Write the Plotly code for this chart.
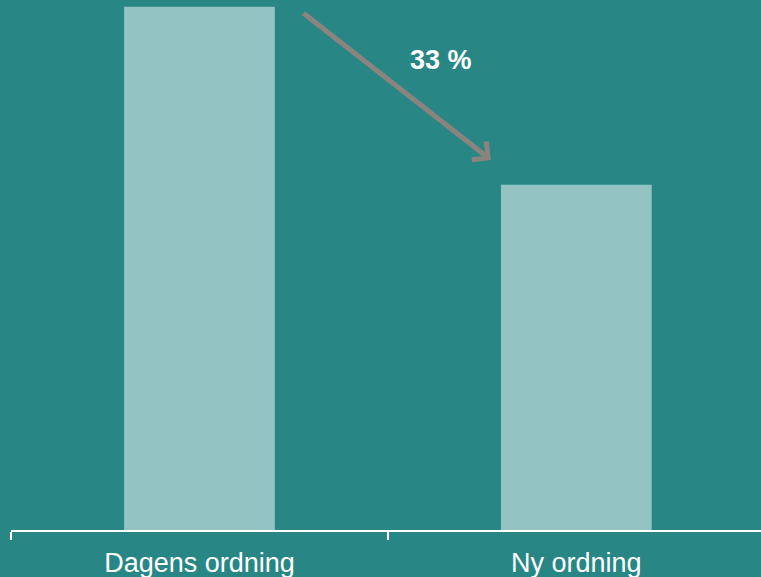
import plotly.graph_objects as go

categories = ["Dagens ordning", "Ny ordning"]
values = [100, 66]
change_label = "33 %"

BG = "#288784"
BAR = "#93c3c2"
ARROW = "#8b847e"

fig = go.Figure(go.Bar(x=categories, y=values, marker=dict(color=BAR, line=dict(width=0)), width=0.4))

fig.update_layout(
    width=761, height=577,
    paper_bgcolor=BG, plot_bgcolor=BG,
    margin=dict(l=11, r=0, t=0, b=47),
    showlegend=False,
    font=dict(family="Liberation Sans, Arial, sans-serif", color="white"),
)
fig.update_xaxes(
    range=[-0.5, 1.49], showline=True, linecolor="white", linewidth=2,
    ticks="outside", tickson="boundaries", tickcolor="white", ticklen=8, tickwidth=1.5,
    tickfont=dict(size=27, color="white"), ticklabelstandoff=8,
    showgrid=False, zeroline=False,
)
fig.update_yaxes(range=[0, 101.3], visible=False, showgrid=False)

fig.add_annotation(
    xref="paper", yref="paper", x=(491 - 11) / 750, y=1 - 160 / 530,
    ax=-189, ay=-148, showarrow=True, arrowhead=4, arrowwidth=5,
    arrowsize=0.9, arrowcolor=ARROW, standoff=0, text="",
)
fig.add_annotation(
    xref="paper", yref="paper", x=(441 - 11) / 750, y=1 - 60 / 530,
    xanchor="center", yanchor="middle",
    text="<b>%s</b>" % change_label, showarrow=False,
    font=dict(size=27, color="white"),
)

fig.write_html(
    "out.html",
    config={"displayModeBar": False},
    post_script="document.body.style.margin='0';document.body.style.padding='0';",
)
